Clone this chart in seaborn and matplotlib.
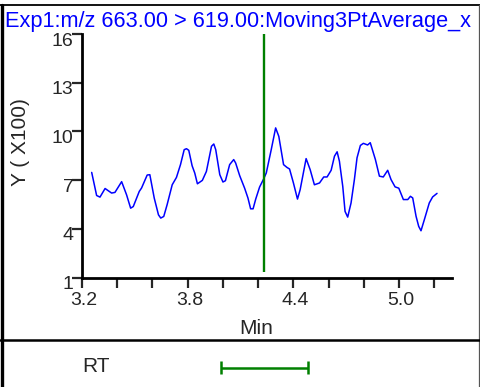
import matplotlib
matplotlib.use("Agg")
import matplotlib.pyplot as plt
import matplotlib.transforms as mtransforms
import seaborn as sns
import pandas as pd
from matplotlib.lines import Line2D

# ---- data ----
rt_min = [3.255, 3.283, 3.302, 3.331, 3.368, 3.387, 3.425, 3.453, 3.476, 3.491,
          3.525, 3.538, 3.570, 3.585, 3.610, 3.634, 3.647, 3.664, 3.683, 3.712,
          3.736, 3.759, 3.780, 3.793, 3.806, 3.825, 3.840, 3.855, 3.883, 3.906,
          3.935, 3.948, 3.959, 3.982, 4.000, 4.014, 4.038, 4.061, 4.072, 4.095,
          4.123, 4.142, 4.157, 4.171, 4.186, 4.208, 4.231, 4.246, 4.274, 4.299,
          4.317, 4.344, 4.363, 4.378, 4.400, 4.423, 4.438, 4.472, 4.495, 4.519,
          4.548, 4.572, 4.591, 4.614, 4.633, 4.648, 4.661, 4.680, 4.693, 4.708,
          4.727, 4.746, 4.761, 4.780, 4.797, 4.821, 4.836, 4.865, 4.888, 4.910,
          4.935, 4.954, 4.977, 4.998, 5.024, 5.049, 5.064, 5.077, 5.096, 5.111,
          5.124, 5.143, 5.171, 5.190, 5.215]
intensity = [7.48, 6.06, 5.96, 6.49, 6.21, 6.25, 6.91, 6.10, 5.28, 5.38,
             6.31, 6.52, 7.32, 7.34, 5.90, 4.87, 4.67, 4.77, 5.49, 6.72,
             7.17, 7.96, 8.88, 8.94, 8.84, 7.89, 7.44, 6.78, 6.99, 7.54,
             9.09, 9.23, 8.88, 7.34, 6.89, 6.97, 7.96, 8.27, 8.06, 7.28,
             6.51, 5.90, 5.24, 5.24, 5.84, 6.58, 7.08, 7.45, 8.88, 10.22,
             9.70, 7.96, 7.79, 7.69, 6.83, 5.84, 6.41, 8.33, 7.65, 6.72,
             6.83, 7.20, 7.20, 7.61, 8.48, 8.75, 8.17, 6.62, 5.08, 4.73,
             5.60, 7.04, 8.38, 9.14, 9.27, 9.17, 9.31, 8.28, 7.25, 7.20,
             7.61, 7.04, 6.59, 6.51, 5.81, 5.81, 6.01, 5.91, 4.78, 4.16,
             3.89, 4.57, 5.60, 5.97, 6.19]
y_ticks = [1, 4, 7, 10, 13, 16]
x_major = [3.2, 3.8, 4.4, 5.0]
x_minor = [3.2, 3.4, 3.6, 3.8, 4.0, 4.2, 4.4, 4.6, 4.8, 5.0, 5.2]
marker_rt = 4.233
rt_window = [3.99, 4.48]
title = "Exp1:m/z 663.00 > 619.00:Moving3PtAverage_x"

df = pd.DataFrame({"Min": rt_min, "Y": intensity})

sns.set_style("white")
plt.rcParams["font.family"] = ["Liberation Sans", "DejaVu Sans"]

W, H = 480, 387
fig = plt.figure(figsize=(W / 100, H / 100), dpi=100)

def fx(px):
    return px / W

def fy(py):
    return 1 - py / H

ax = fig.add_axes([fx(82), fy(277.7), fx(452) - fx(82), fy(34) - fy(277.7)])
sns.lineplot(data=df, x="Min", y="Y", ax=ax, color="#0000ff", linewidth=1.1)
ax.set_xlim(3.2, 5.3)
ax.set_ylim(1, 16)
ax.vlines(marker_rt, 1.35, 16, color="#008000", linewidth=1.7)

for s in ["top", "right"]:
    ax.spines[s].set_visible(False)
for s in ["left", "bottom"]:
    ax.spines[s].set_linewidth(2.0)
    ax.spines[s].set_color("black")

ax.set_yticks(y_ticks)
ax.set_yticklabels([str(v) for v in y_ticks])
ax.set_xticks(x_minor)
ax.set_xticklabels([f"{v:.1f}" if any(abs(v - m) < 1e-6 for m in x_major) else "" for v in x_minor])
ax.tick_params(axis="y", direction="out", length=7, width=1.6, pad=-1, labelsize=14, left=True)
ax.tick_params(axis="x", direction="out", length=7, width=1.6, pad=3.5, labelsize=14, bottom=True)
ax.set_xlabel("")
ax.set_ylabel("")
ax.patch.set_alpha(0)

shift_y = mtransforms.ScaledTranslation(0, -5 / 100, fig.dpi_scale_trans)
for lab in ax.get_yticklabels():
    lab.set_transform(lab.get_transform() + shift_y)
shift_x = mtransforms.ScaledTranslation(2 / 100, 0, fig.dpi_scale_trans)
for lab in ax.get_xticklabels():
    lab.set_transform(lab.get_transform() + shift_x)

fig.text(fx(256), fy(328), "Min", ha="center", va="center", fontsize=15)
fig.text(fx(21), fy(142), "Y ( X100)", ha="center", va="center", rotation=90, fontsize=15)
fig.text(fx(5), fy(22), title, ha="left", va="center", fontsize=15.7, color="#0000ff")

# RT panel
ax2 = fig.add_axes([fx(82), fy(386), fx(452) - fx(82), fy(342) - fy(386)])
ax2.set_xlim(3.2, 5.3)
ax2.set_ylim(0, 1)
ax2.axis("off")
ax2.hlines(0.42, rt_window[0], rt_window[1], color="#008000", linewidth=1.8)
ax2.vlines(rt_window, 0.27, 0.57, color="#008000", linewidth=1.8)
fig.text(fx(96), fy(366), "RT", ha="center", va="center", fontsize=15)

# frame lines
fig.add_artist(Line2D([fx(0), fx(480)], [fy(4.5), fy(4.5)], color="black", lw=1.3))
fig.add_artist(Line2D([fx(1.5), fx(1.5)], [fy(4.5), fy(387)], color="black", lw=2.4))
fig.add_artist(Line2D([fx(479.3), fx(479.3)], [fy(4.5), fy(387)], color="#555555", lw=0.9))
fig.add_artist(Line2D([fx(0), fx(480)], [fy(339.5), fy(339.5)], color="black", lw=1.8))

fig.savefig("out.png", dpi=100)
